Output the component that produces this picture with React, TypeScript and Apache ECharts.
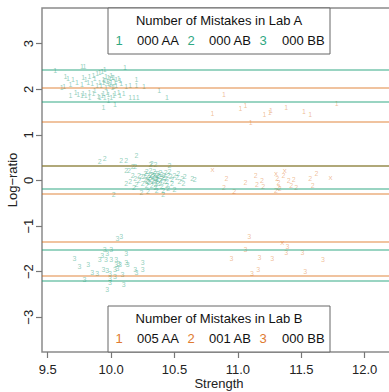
import React, { useEffect, useRef } from "react";
import * as echarts from "echarts";

// ---- data ----
const xTicks = [9.5, 10.0, 10.5, 11.0, 11.5, 12.0];
const yTicks = [-3, -2, -1, 0, 1, 2, 3];
const xTitle = "Strength";
const yTitle = "Log\u2212ratio";

// Lab A (green) cluster boundaries
const labALines = [2.42, 1.715, 0.33, -0.19, -1.51, -2.2];
// Lab B (orange) cluster boundaries
const labBLines = [2.035, 1.28, 0.32, -0.28, -1.34, -2.09];

const labALegend = ["000 AA", "000 AB", "000 BB"];
const labBLegend = ["005 AA", "001 AB", "000 BB"];

// Lab A points (genotype 1, 2, 3)
const labA1: number[][] = [
  [9.56, 2.42], [9.77, 2.49], [9.79, 2.49], [9.95, 2.44], [10.11, 2.48], [9.64, 2.29], [9.66, 2.23],
  [9.7, 2.22], [9.78, 2.25], [9.8, 2.22], [9.83, 2.27], [9.86, 2.31], [9.87, 2.23], [9.89, 2.34],
  [9.91, 2.36], [9.93, 2.38], [9.95, 2.2], [9.99, 2.23], [10.01, 2.26], [10.02, 2.25], [10.04, 2.22],
  [10.06, 2.23], [10.07, 2.2], [10.2, 2.22], [9.61, 2.05], [9.63, 2.07], [9.68, 2.1], [9.73, 2.15],
  [9.77, 2.1], [9.82, 2.16], [9.85, 2.12], [9.89, 2.09], [9.91, 2.14], [9.92, 2.09], [9.94, 2.15],
  [9.98, 2.12], [9.99, 2.1], [10.0, 2.16], [10.02, 2.07], [10.03, 2.15], [10.04, 2.09], [10.08, 2.12],
  [10.12, 2.07], [10.15, 2.09], [10.2, 2.09], [10.26, 2.07], [10.38, 1.98], [9.68, 1.87], [9.72, 1.93],
  [9.74, 1.88], [9.78, 1.91], [9.8, 1.87], [9.83, 1.94], [9.86, 1.91], [9.87, 1.98], [9.9, 1.85],
  [9.91, 1.81], [9.93, 1.87], [9.94, 1.91], [9.95, 1.83], [9.97, 1.94], [9.98, 1.88], [10.0, 1.83],
  [10.02, 1.87], [10.03, 1.91], [10.06, 1.93], [10.07, 1.87], [10.1, 1.9], [10.15, 1.83], [10.18, 1.83],
  [10.21, 1.81], [10.44, 1.81], [9.83, 1.81], [9.77, 1.87], [9.94, 1.61], [10.03, 1.67], [9.98, 1.76],
  [9.96, 2.28], [9.97, 2.18], [9.98, 2.25], [10.0, 2.3], [9.94, 2.22], [10.01, 2.03], [9.96, 2.05],
];
const labA2: number[][] = [
  [9.91, 0.41], [9.95, 0.49], [10.08, 0.44], [10.12, 0.44], [10.2, 0.54], [10.31, 0.36], [10.35, 0.36],
  [10.46, 0.32], [10.14, 0.22], [10.19, 0.3], [10.17, 0.12], [10.19, 0.05], [10.12, -0.06], [10.15, -0.03],
  [10.22, 0.01], [10.24, 0.08], [10.27, 0.16], [10.28, 0.19], [10.29, 0.1], [10.31, 0.03], [10.32, 0.14],
  [10.33, 0.08], [10.35, 0.16], [10.36, 0.05], [10.37, 0.12], [10.39, 0.01], [10.4, 0.14], [10.41, 0.07],
  [10.43, 0.17], [10.44, -0.03], [10.45, 0.1], [10.46, 0.19], [10.48, 0.03], [10.5, 0.12], [10.52, 0.07],
  [10.53, 0.16], [10.54, -0.03], [10.56, 0.05], [10.57, -0.06], [10.58, 0.08], [10.64, 0.05], [10.66, 0.03],
  [10.25, -0.06], [10.28, -0.12], [10.29, -0.03], [10.32, -0.1], [10.35, -0.15], [10.37, -0.06], [10.4, -0.14],
  [10.41, -0.21], [10.44, -0.12], [10.5, -0.19], [10.24, -0.27], [10.29, -0.25], [10.36, -0.21], [10.41, -0.3],
  [10.02, -0.31], [10.33, -0.03], [10.36, -0.03], [10.39, -0.06], [10.27, 0.03], [10.31, 0.23], [10.43, 0.05],
  [10.48, -0.06], [10.35, 0.05], [10.45, -0.17], [10.3, 0.06], [10.34, 0.11], [10.38, 0.09], [10.36, 0.02],
  [10.31, 0.12], [10.4, 0.04], [10.33, 0.0], [10.42, 0.1], [10.26, 0.09], [10.39, 0.18], [10.28, 0.0],
  [10.35, -0.08], [10.3, -0.05], [10.37, 0.15], [10.42, -0.02], [10.22, 0.12], [10.2, -0.08], [10.18, -0.15],
  [10.47, 0.08], [10.34, 0.2], [10.12, 0.23], [10.17, 0.3], [10.32, 0.38],
];
const labA3: number[][] = [
  [10.08, -1.22], [10.05, -1.28], [9.95, -1.52], [10.0, -1.52], [9.93, -1.65], [10.12, -1.6], [9.91, -1.74],
  [9.96, -1.73], [10.0, -1.73], [10.04, -1.73], [10.06, -1.82], [10.04, -1.85], [10.07, -1.85], [10.13, -1.84],
  [9.71, -1.71], [9.75, -1.89], [9.82, -1.85], [9.85, -2.02], [9.89, -2.04], [9.94, -1.96], [9.97, -1.98],
  [9.99, -2.04], [10.03, -1.95], [10.03, -2.11], [9.99, -2.14], [10.09, -2.07], [10.19, -1.95], [10.2, -2.01],
  [10.25, -1.8], [10.25, -1.95], [9.79, -2.18], [9.99, -2.23], [10.1, -2.27], [9.97, -2.38], [10.12, -1.79],
  [9.97, -1.6], [10.05, -1.92],
];

// Lab B points (genotype 1, 2, 3) and miscalled points
const labB1: number[][] = [
  [10.89, 1.88], [10.8, 1.46], [11.02, 1.57], [11.06, 1.64], [11.1, 1.28], [11.21, 1.45], [11.25, 1.49],
  [11.26, 1.53], [11.38, 1.6], [11.52, 1.51], [11.57, 1.44], [11.78, 1.69],
];
const labB2: number[][] = [
  [10.91, 0.05], [10.89, -0.15], [10.97, -0.25], [11.06, -0.04], [11.14, 0.12], [11.15, -0.08], [11.19, -0.01],
  [11.2, -0.14], [11.31, 0.05], [11.32, -0.04], [11.32, -0.16], [11.3, -0.23], [11.36, 0.12], [11.4, 0.01],
  [11.42, -0.11], [11.44, 0.03], [11.46, -0.16], [11.57, 0.05], [11.62, 0.16], [11.59, -0.12], [11.33, -0.17],
];
const labB3: number[][] = [
  [11.09, -1.22], [11.39, -1.45], [11.38, -1.58], [11.06, -1.52], [10.95, -1.71], [11.17, -1.68], [11.27, -1.71],
  [11.51, -1.58], [11.67, -1.74], [11.16, -1.96], [11.11, -2.05], [11.53, -1.99],
];
const labBMistakes: number[][] = [
  [10.8, 0.25], [11.3, 0.16], [11.37, 0.23], [11.73, 0.06], [11.35, -1.36],
];

// ---- styling ----
const FONT = "Liberation Sans, Arial, Helvetica, sans-serif";
const GREEN_PT = "rgba(27,158,119,0.5)";
const ORANGE_PT = "rgba(217,95,2,0.42)";
const GREEN_LINE = "rgba(27,158,119,0.6)";
const ORANGE_LINE = "rgba(217,95,2,0.5)";
const GREEN_TXT = "#2fa882";
const ORANGE_TXT = "#e07a30";

const X_MIN = 9.455;
const X_MAX = 12.239;
const Y_MIN = -3.761;
const Y_MAX = 3.783;
const MINUS = "\u2212";

function glyphSeries(name: string, data: number[][], glyph: string, color: string, size: number, lines?: number[], lineColor?: string) {
  const s: any = {
    name,
    type: "custom",
    data,
    clip: true,
    renderItem: (params: any, api: any) => {
      const p = api.coord([api.value(0), api.value(1)]);
      return {
        type: "text",
        x: p[0],
        y: p[1],
        style: {
          text: glyph,
          fill: color,
          font: `${size}px ${FONT}`,
          align: "center",
          verticalAlign: "middle",
          textAlign: "center",
          textVerticalAlign: "middle",
        },
      };
    },
  };
  if (lines && lineColor) {
    s.markLine = {
      silent: true,
      symbol: "none",
      label: { show: false },
      lineStyle: { type: "solid", width: 1.5, color: lineColor },
      data: lines.map((v) => ({ yAxis: v })),
    };
  }
  return s;
}

function legendBox(top: number, title: string, items: string[], digitColor: string) {
  const left = 108;
  const width = 222;
  const height = 46;
  const rowY = top + 32;
  const digitX = [119, 191, 263];
  const labelX = [137, 209, 282];
  const children: any[] = [
    { type: "rect", shape: { x: left, y: top, width, height }, style: { fill: "#fff", stroke: "#666", lineWidth: 1 } },
    {
      type: "text",
      x: left + width / 2,
      y: top + 12,
      style: { text: title, fill: "#111", font: `13px ${FONT}`, align: "center", verticalAlign: "middle" },
    },
  ];
  items.forEach((it, i) => {
    children.push({
      type: "text",
      x: digitX[i],
      y: rowY,
      style: { text: String(i + 1), fill: digitColor, font: `13px ${FONT}`, align: "center", verticalAlign: "middle" },
    });
    children.push({
      type: "text",
      x: labelX[i],
      y: rowY,
      style: { text: it, fill: "#111", font: `13px ${FONT}`, align: "left", verticalAlign: "middle" },
    });
  });
  return { type: "group", z: 100, children };
}

export default function App() {
  const ref = useRef<HTMLDivElement>(null);
  useEffect(() => {
    if (!ref.current) return;
    const chart = echarts.init(ref.current, undefined, { renderer: "svg" });
    const fmt = (v: number, d: number) => (v < 0 ? MINUS + Math.abs(v).toFixed(d) : v.toFixed(d));
    chart.setOption({
      animation: false,
      backgroundColor: "#fff",
      textStyle: { fontFamily: FONT },
      grid: {
        left: 42,
        top: 8,
        right: -6,
        bottom: 40,
        containLabel: false,
        outerBoundsMode: "none",
        show: true,
        borderColor: "#8a8a8a",
        borderWidth: 1.5,
        backgroundColor: "transparent",
      },
      xAxis: {
        type: "value",
        position: "bottom",
        min: X_MIN,
        max: X_MAX,
        splitLine: { show: false },
        axisLine: { show: false, onZero: false },
        axisTick: { show: true, length: 6, customValues: xTicks, lineStyle: { color: "#777", width: 1.2 } },
        axisLabel: {
          customValues: xTicks,
          formatter: (v: number) => fmt(v, 1),
          fontSize: 13,
          color: "#222",
          margin: 11,
          fontFamily: FONT,
        },
      },
      yAxis: {
        type: "value",
        position: "left",
        min: Y_MIN,
        max: Y_MAX,
        splitLine: { show: false },
        axisLine: { show: false, onZero: false },
        axisTick: { show: true, length: 6, customValues: yTicks, lineStyle: { color: "#777", width: 1.2 } },
        axisLabel: {
          customValues: yTicks,
          formatter: (v: number) => fmt(v, 0),
          rotate: 90,
          fontSize: 13,
          color: "#222",
          margin: 7,
          fontFamily: FONT,
        },
      },
      series: [
        glyphSeries("A1", labA1, "1", GREEN_PT, 7, labALines, GREEN_LINE),
        glyphSeries("A2", labA2, "2", GREEN_PT, 7),
        glyphSeries("A3", labA3, "3", GREEN_PT, 7),
        glyphSeries("B1", labB1, "1", ORANGE_PT, 7, labBLines, ORANGE_LINE),
        glyphSeries("B2", labB2, "2", ORANGE_PT, 7),
        glyphSeries("B3", labB3, "3", ORANGE_PT, 7),
        glyphSeries("Bx", labBMistakes, "x", ORANGE_PT, 8),
      ],
      graphic: [
        legendBox(8, "Number of Mistakes in Lab A", labALegend, GREEN_TXT),
        legendBox(306, "Number of Mistakes in Lab B", labBLegend, ORANGE_TXT),
        {
          type: "text",
          x: 219,
          y: 383,
          style: { text: xTitle, fill: "#222", font: `13px ${FONT}`, align: "center", verticalAlign: "middle" },
        },
        {
          type: "text",
          x: 12,
          y: 180,
          rotation: Math.PI / 2,
          style: { text: yTitle, fill: "#222", font: `13px ${FONT}`, align: "center", verticalAlign: "middle" },
        },
      ],
    });
    return () => chart.dispose();
  }, []);
  return <div ref={ref} style={{ position: "absolute", left: 0, top: 0, width: 389, height: 392 }} />;
}
